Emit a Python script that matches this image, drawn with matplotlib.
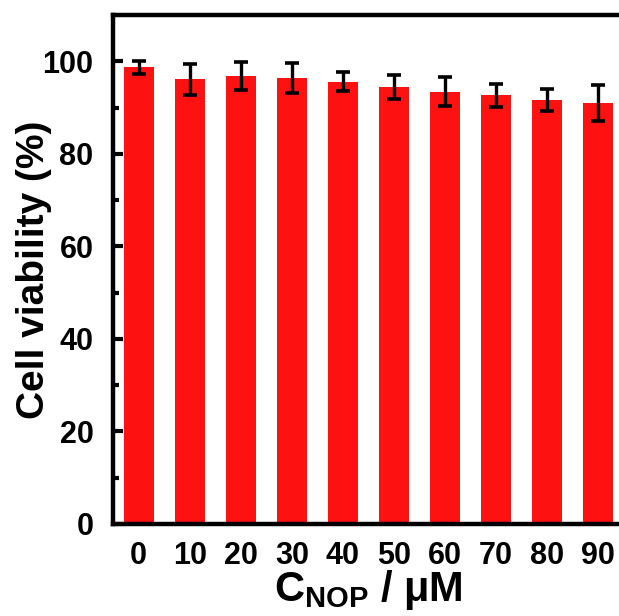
import numpy as np
import matplotlib.pyplot as plt

plt.rcParams['font.family'] = ['Liberation Sans', 'DejaVu Sans']
plt.rcParams['font.weight'] = 'bold'

# concentration (uM) and viability (%)
conc = ['0', '10', '20', '30', '40', '50', '60', '70', '80', '90']
viability = [98.7, 96.1, 96.8, 96.4, 95.6, 94.4, 93.4, 92.7, 91.6, 91.0]
errors = [1.4, 3.3, 3.0, 3.3, 2.1, 2.6, 3.1, 2.5, 2.4, 3.9]

fig = plt.figure(figsize=(6.19, 6.16), dpi=100)
ax = fig.add_axes([0.1826, 0.1494, 1.008 - 0.1826, 0.9756 - 0.1494])

x = np.arange(len(conc))
ax.bar(x, viability, width=0.59, color='#fe1111', zorder=2)
ax.errorbar(x, viability, yerr=errors, fmt='none', ecolor='black',
            elinewidth=2.4, capsize=5, capthick=2.6, zorder=3)

ax.set_xlim(-0.5, 9.5)
ax.set_ylim(0, 110)
ax.set_xticks(x)
ax.set_xticklabels(conc)
ax.set_yticks([0, 20, 40, 60, 80, 100])
ax.set_yticks([10, 30, 50, 70, 90], minor=True)

for s in ax.spines.values():
    s.set_linewidth(3.2)
ax.tick_params(axis='y', which='major', direction='in', length=7, width=3,
               labelsize=22, pad=14)
ax.tick_params(axis='y', which='minor', direction='in', length=4, width=3)
ax.tick_params(axis='x', length=0, labelsize=22, pad=12)

ax.set_ylabel('Cell viability (%)', fontsize=28, fontweight='bold', labelpad=-7)
ax.set_xlabel(r'C$_{\mathregular{NOP}}$ / μM', fontsize=30, fontweight='bold', labelpad=-2)

fig.savefig('out.png', dpi=100)
